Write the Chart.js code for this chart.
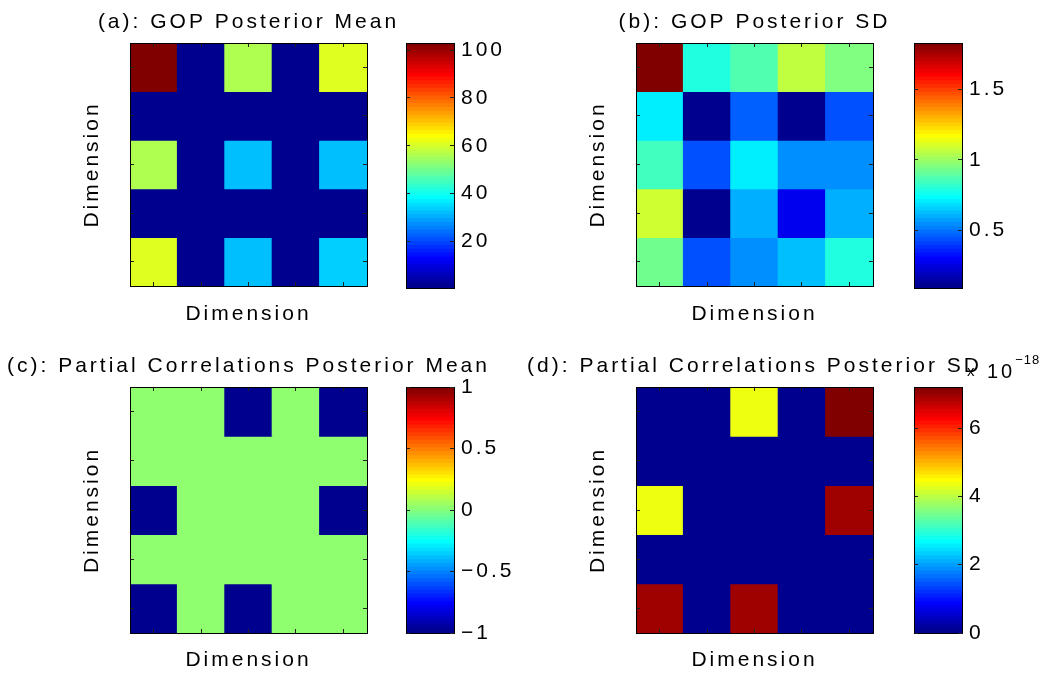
<!DOCTYPE html>
<html>
<head>
<meta charset="utf-8">
<script src="https://cdn.jsdelivr.net/npm/chart.js@4"></script>
<style>
  body { margin: 0; background: #fff; width: 1056px; height: 673px; position: relative; overflow: hidden; }
  canvas { position: absolute; }
  .exp { position: absolute; font-family: "Liberation Sans"; color: #000; line-height: 22px; white-space: nowrap; }
</style>
</head>
<body>
<canvas id="heatA" style="left:0px;top:0px" width="497" height="335"></canvas>
<canvas id="heatB" style="left:506px;top:0px" width="497" height="335"></canvas>
<canvas id="heatC" style="left:0px;top:344px" width="497" height="335"></canvas>
<canvas id="heatD" style="left:506px;top:344px" width="497" height="335"></canvas>
<canvas id="barA" style="left:380px;top:0px" width="150" height="335"></canvas>
<canvas id="barB" style="left:888px;top:0px" width="150" height="335"></canvas>
<canvas id="barC" style="left:380px;top:344px" width="150" height="335"></canvas>
<canvas id="barD" style="left:888px;top:344px" width="150" height="335"></canvas>
<div class="exp" style="left:967px;top:360px;font-size:15px">x</div>
<div class="exp" style="left:987px;top:360px;font-size:20px;letter-spacing:3px">10<span style="font-size:13px;position:relative;top:-14px;letter-spacing:1px">−18</span></div>
<script>
// Dimensions of the 5x5 matrices
const dims = ["1", "2", "3", "4", "5"];

// (a): GOP posterior mean, rows from top to bottom
const gopMean = [
  [103, 0.5, 55, 0.5, 61],
  [0.5, 0.5, 0.5, 0.5, 0.5],
  [56, 0.5, 31, 0.5, 31],
  [0.5, 0.5, 0.5, 0.5, 0.5],
  [61, 0.5, 32, 0.5, 33],
];
const gopMeanLimits = [0.5, 103];
const gopMeanTicks = [20, 40, 60, 80, 100];

// (b): GOP posterior SD
const gopSd = [
  [1.83, 0.78, 0.86, 1.06, 0.94],
  [0.69, 0.1, 0.46, 0.09, 0.44],
  [0.84, 0.42, 0.7, 0.54, 0.53],
  [1.07, 0.11, 0.58, 0.26, 0.6],
  [0.91, 0.44, 0.54, 0.61, 0.79],
];
const gopSdLimits = [0.09, 1.83];
const gopSdTicks = [0.5, 1, 1.5];

// (c): partial correlations posterior mean
const pcorMean = [
  [0, 0, -1, 0, -1],
  [0, 0, 0, 0, 0],
  [-1, 0, 0, 0, -1],
  [0, 0, 0, 0, 0],
  [-1, 0, -1, 0, 0],
];
const pcorMeanLimits = [-1, 1];
const pcorMeanTicks = [-1, -0.5, 0, 0.5, 1];

// (d): partial correlations posterior SD (in units of 1e-18)
const pcorSd = [
  [0, 0, 4.3, 0, 7.2],
  [0, 0, 0, 0, 0],
  [4.3, 0, 0, 0, 6.9],
  [0, 0, 0, 0, 0],
  [6.9, 0, 6.9, 0, 0],
];
const pcorSdLimits = [0, 7.2];
const pcorSdTicks = [0, 2, 4, 6];

// MATLAB jet colormap with m colours
function jetMap(m) {
  const n = Math.ceil(m / 4);
  const u = [];
  for (let i = 1; i <= n; i++) u.push(i / n);
  for (let i = 1; i < n; i++) u.push(1);
  for (let i = n; i >= 1; i--) u.push(i / n);
  const g0 = Math.ceil(n / 2) - (m % 4 === 1 ? 1 : 0);
  const map = Array.from({ length: m }, () => [0, 0, 0]);
  u.forEach((val, k) => {
    const gi = g0 + k + 1;
    const ri = gi + n;
    const bi = gi - n;
    if (ri >= 1 && ri <= m) map[ri - 1][0] = val;
    if (gi >= 1 && gi <= m) map[gi - 1][1] = val;
    if (bi >= 1 && bi <= m) map[bi - 1][2] = val;
  });
  return map;
}
const jet64 = jetMap(64);
const rgb = (c) => `rgb(${Math.round(c[0] * 255)},${Math.round(c[1] * 255)},${Math.round(c[2] * 255)})`;

// Colour of a cell, same indexing as imagesc
function cellColor(v, limits) {
  let k = Math.floor(((v - limits[0]) / (limits[1] - limits[0])) * 64);
  k = Math.max(0, Math.min(63, k));
  return rgb(jet64[k]);
}

// Wide spaced text like the old MATLAB rendering
const letterSpacing = {
  id: "letterSpacing",
  beforeDraw(chart) {
    chart.ctx.letterSpacing = "3px";
  },
};

Chart.defaults.font.family = "Liberation Sans";
Chart.defaults.font.size = 21;
Chart.defaults.color = "#000";

const textFont = { size: 21, weight: "normal" };
const rowTicks = (s) => {
  s.ticks = dims.map((d) => ({ value: Number(d) }));
};

// Axis that only draws the black frame and small inner ticks
function frameAxis(extra) {
  return Object.assign(
    {
      ticks: { display: false },
      grid: { display: true, drawOnChartArea: false, drawTicks: true, tickLength: -4, color: "#222", z: 1, offset: false },
      border: { display: true, color: "#000", width: 1, z: 1 },
    },
    extra
  );
}

function makeHeatmap(id, matrix, limits, titleText, bottomHeight, labelPad) {
  const ctx = document.getElementById(id).getContext("2d");
  // One floating bar dataset per row of the matrix
  const datasets = matrix.map((row, r) => ({
    data: row.map(() => [r + 0.5, r + 1.5]),
    backgroundColor: row.map((v) => cellColor(v, limits)),
    borderWidth: 0,
    inflateAmount: 0.5,
    grouped: false,
    barPercentage: 1,
    categoryPercentage: 1,
  }));
  new Chart(ctx, {
    type: "bar",
    data: { labels: dims, datasets: datasets },
    options: {
      responsive: false,
      animation: false,
      events: [],
      plugins: {
        legend: { display: false },
        tooltip: { enabled: false },
        title: { display: true, text: titleText, padding: { top: 9.4, bottom: 0 }, font: textFont },
      },
      scales: {
        x: frameAxis({
          type: "category",
          position: "bottom",
          afterFit: (s) => { s.height = bottomHeight; },
          title: { display: true, text: "Dimension", padding: { top: 0, bottom: labelPad }, font: textFont },
        }),
        x2: frameAxis({
          type: "category",
          labels: dims,
          position: "top",
          afterFit: (s) => { s.height = 8.4; },
        }),
        y: frameAxis({
          type: "linear",
          min: 0.5,
          max: 5.5,
          reverse: true,
          position: "left",
          afterBuildTicks: rowTicks,
          afterFit: (s) => { s.width = 130; },
          title: { display: true, text: "Dimension", padding: { top: 79.4, bottom: 0 }, font: textFont },
        }),
        y2: frameAxis({
          type: "linear",
          min: 0.5,
          max: 5.5,
          reverse: true,
          position: "right",
          afterBuildTicks: rowTicks,
          afterFit: (s) => { s.width = 130; },
        }),
      },
    },
    plugins: [letterSpacing],
  });
}

function makeColorbar(id, limits, ticks, bottomHeight) {
  const ctx = document.getElementById(id).getContext("2d");
  const step = (limits[1] - limits[0]) / 64;
  // 64 stacked segments, one per colour of the map
  const datasets = jet64.map((c, k) => ({
    data: [[limits[0] + k * step, limits[0] + (k + 1) * step]],
    backgroundColor: rgb(c),
    borderWidth: 0,
    inflateAmount: 1,
    grouped: false,
    barPercentage: 1,
    categoryPercentage: 1,
  }));
  const buildTicks = (s) => {
    s.ticks = ticks.map((v) => ({ value: v }));
  };
  new Chart(ctx, {
    type: "bar",
    data: { labels: [""], datasets: datasets },
    options: {
      responsive: false,
      animation: false,
      events: [],
      plugins: { legend: { display: false }, tooltip: { enabled: false } },
      scales: {
        x: {
          type: "category",
          position: "bottom",
          ticks: { display: false },
          grid: { display: false },
          border: { display: true, color: "#000", z: 1 },
          afterFit: (s) => { s.height = bottomHeight; },
        },
        x2: {
          type: "category",
          labels: [""],
          position: "top",
          ticks: { display: false },
          grid: { display: false },
          border: { display: true, color: "#000", z: 1 },
          afterFit: (s) => { s.height = 43; },
        },
        y: {
          type: "linear",
          min: limits[0],
          max: limits[1],
          position: "right",
          afterBuildTicks: buildTicks,
          ticks: {
            display: true,
            autoSkip: false,
            padding: 11,
            font: textFont,
            callback: (v) => (v < 0 ? "−" + Math.abs(v) : String(v)),
          },
          grid: { display: true, drawOnChartArea: false, drawTicks: true, tickLength: -4, color: "#222", z: 1 },
          border: { display: true, color: "#000", z: 1 },
          afterFit: (s) => { s.width = 76; },
        },
        y2: {
          type: "linear",
          min: limits[0],
          max: limits[1],
          position: "left",
          afterBuildTicks: buildTicks,
          ticks: { display: false },
          grid: { display: true, drawOnChartArea: false, drawTicks: true, tickLength: -4, color: "#222", z: 1 },
          border: { display: true, color: "#000", z: 1 },
          afterFit: (s) => { s.width = 26; },
        },
      },
    },
    plugins: [letterSpacing],
  });
}

makeHeatmap("heatA", gopMean, gopMeanLimits, "(a): GOP Posterior Mean", 49, 8.4);
makeHeatmap("heatB", gopSd, gopSdLimits, "(b): GOP Posterior SD", 49, 8.4);
makeHeatmap("heatC", pcorMean, pcorMeanLimits, "(c): Partial Correlations Posterior Mean", 46, 6.4);
makeHeatmap("heatD", pcorSd, pcorSdLimits, "(d): Partial Correlations Posterior SD", 46, 6.4);

makeColorbar("barA", gopMeanLimits, gopMeanTicks, 47);
makeColorbar("barB", gopSdLimits, gopSdTicks, 47);
makeColorbar("barC", pcorMeanLimits, pcorMeanTicks, 46);
makeColorbar("barD", pcorSdLimits, pcorSdTicks, 46);
</script>
</body>
</html>
